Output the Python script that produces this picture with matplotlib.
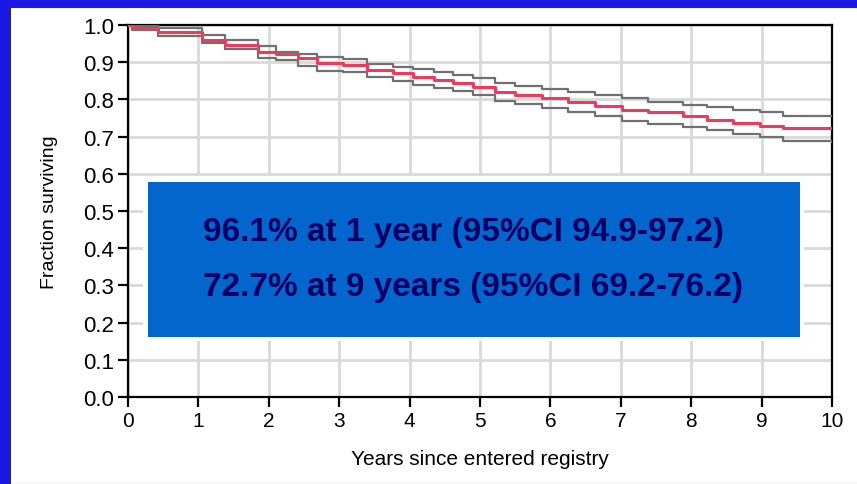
import numpy as np
import matplotlib.pyplot as plt
from matplotlib.patches import Rectangle

# step times (years)
t = [0, 0.06, 0.43, 1.05, 1.38, 1.85, 2.1, 2.42, 2.68, 3.06, 3.39, 3.77, 4.05, 4.34,
     4.62, 4.9, 5.21, 5.5, 5.88, 6.25, 6.63, 7.01, 7.39, 7.89, 8.22, 8.6, 8.98, 9.31, 10]
surv = [1.0, 0.991, 0.980, 0.960, 0.946, 0.927, 0.922, 0.910, 0.897, 0.893, 0.879, 0.870,
        0.861, 0.852, 0.843, 0.834, 0.821, 0.812, 0.803, 0.792, 0.781, 0.772, 0.767,
        0.756, 0.745, 0.736, 0.729, 0.723, 0.722]
upper = [1.0, 0.998, 0.991, 0.973, 0.960, 0.943, 0.928, 0.922, 0.915, 0.909, 0.895, 0.888,
         0.882, 0.873, 0.866, 0.858, 0.844, 0.837, 0.828, 0.821, 0.812, 0.803, 0.794,
         0.786, 0.779, 0.771, 0.765, 0.756, 0.756]
lower = [1.0, 0.987, 0.971, 0.952, 0.935, 0.910, 0.907, 0.891, 0.877, 0.873, 0.859, 0.849,
         0.840, 0.831, 0.823, 0.813, 0.797, 0.788, 0.776, 0.767, 0.756, 0.743, 0.734,
         0.725, 0.718, 0.707, 0.698, 0.688, 0.685]

lines = ['96.1% at 1 year (95%CI 94.9-97.2)', '72.7% at 9 years (95%CI 69.2-76.2)']

plt.rcParams['font.family'] = ['Liberation Sans', 'DejaVu Sans']

fig = plt.figure(figsize=(8.57, 4.85), dpi=100, facecolor='#1a18e4')
# white panel
fig.patches.append(Rectangle((10/857, 0), 1, 1 - 8/485, transform=fig.transFigure,
                             facecolor='white', edgecolor='#333333', lw=0.8, zorder=-10))

ax = fig.add_axes([128/857, 1 - 398/485, 704/857, 372/485])
ax.set_facecolor('white')

ax.step(t, upper, where='post', color='#707070', lw=1.6, zorder=3)
ax.step(t, lower, where='post', color='#707070', lw=1.6, zorder=3)
ax.step(t, surv, where='post', color='#f03a5c', lw=2.2, zorder=4)

ax.set_xlim(0, 10)
ax.set_ylim(0, 1.0)
ax.set_xticks(np.arange(0, 11, 1))
ax.set_yticks(np.arange(0, 1.01, 0.1))
ax.set_yticklabels([f'{v:.1f}' for v in np.arange(0, 1.01, 0.1)])
ax.grid(True, color='#d9d9d9', lw=2, zorder=0)
ax.set_axisbelow(True)
for s in ax.spines.values():
    s.set_linewidth(1.6)
    s.set_color('black')
ax.tick_params(direction='out', length=7, width=1.6, colors='black', pad=3)
ax.tick_params(axis='y', labelsize=16)
ax.tick_params(axis='x', labelsize=15)

# text box
ax.add_patch(Rectangle((0.213, 0.151), 9.60 - 0.213, 0.594 - 0.151, facecolor='white',
                       edgecolor='none', zorder=5))
ax.add_patch(Rectangle((0.28, 0.161), 9.55 - 0.28, 0.578 - 0.161, facecolor='#0366cc',
                       edgecolor='none', zorder=6))
ax.text(1.065, 0.446, lines[0], color='#000066', fontsize=24, fontweight='bold',
        va='center', ha='left', zorder=7)
ax.text(1.065, 0.296, lines[1], color='#000066', fontsize=24, fontweight='bold',
        va='center', ha='left', zorder=7)

ax.set_xlabel('Years since entered registry', fontsize=15, labelpad=14)
ax.set_ylabel('Fraction surviving', fontsize=14, labelpad=18)

fig.savefig('out.png', dpi=100, facecolor=fig.get_facecolor())
